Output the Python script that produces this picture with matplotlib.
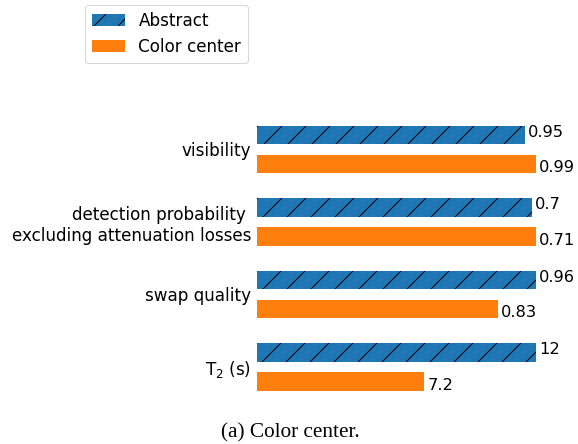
import matplotlib
matplotlib.use("Agg")
import matplotlib.pyplot as plt
import numpy as np

categories = ["visibility", "detection probability \nexcluding attenuation losses",
              "swap quality", "T$_2$ (s)"]
abstract_vals = [0.95, 0.7, 0.96, 12]
color_center_vals = [0.99, 0.71, 0.83, 7.2]
abstract_labels = ["0.95", "0.7", "0.96", "12"]
color_center_labels = ["0.99", "0.71", "0.83", "7.2"]
series_names = ["Abstract", "Color center"]
caption = "(a) Color center."

DPI = 72
fig = plt.figure(figsize=(578 / DPI, 444 / DPI), dpi=DPI)
ax = fig.add_axes([0.4446, 0.0918, 0.4827, 0.6533])

a = np.array(abstract_vals, dtype=float)
c = np.array(color_center_vals, dtype=float)
mx = np.maximum(a, c)
a_n = a / mx
c_n = c / mx
y = np.arange(len(categories))
off = 0.2
h = 0.25

ax.barh(y - off, a_n, height=h, color="#1f77b4", hatch="/", label=series_names[0])
ax.barh(y + off, c_n, height=h, color="#ff7f0e", label=series_names[1])

for yi, v, lab in zip(y, a_n, abstract_labels):
    ax.annotate(lab, (v, yi - off - 0.04), xytext=(3, 0), textcoords="offset points",
                va="center", ha="left", fontsize=16.2, annotation_clip=False)
for yi, v, lab in zip(y, c_n, color_center_labels):
    ax.annotate(lab, (v, yi + off + 0.05), xytext=(3, 0), textcoords="offset points",
                va="center", ha="left", fontsize=16.2, annotation_clip=False)

ax.set_xlim(0, 1)
ax.set_ylim(3.5, -0.5)
ax.set_yticks(y)
ax.set_yticklabels(categories, fontsize=16.7)
for t in ax.get_yticklabels():
    t.set_multialignment("right")
ax.set_xticks([])
ax.tick_params(axis="y", length=0, pad=6)
for s in ax.spines.values():
    s.set_visible(False)

fig.legend(loc="upper left", bbox_to_anchor=(85 / 578, 1 - 5 / 444),
           borderaxespad=0, fontsize=16.7)

fig.text(0.503, 1 - 437 / 444, caption, ha="center", va="baseline",
         fontsize=21.2, family=["Liberation Serif", "DejaVu Serif"])

fig.savefig("out.png", dpi=DPI)
